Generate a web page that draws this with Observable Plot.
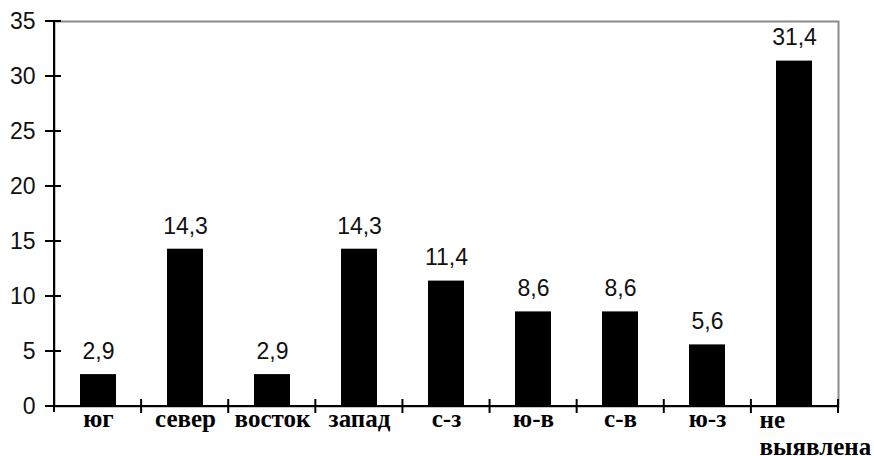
<!DOCTYPE html>
<html><head><meta charset="utf-8">
<script src="https://cdn.jsdelivr.net/npm/d3@7"></script>
<script src="https://cdn.jsdelivr.net/npm/@observablehq/plot@0.6"></script>
<style>html,body{margin:0;padding:0;background:#fff}</style>
</head><body><div id="chart"></div>
<script>
const categories = ["юг","север","восток","запад","с-з","ю-в","с-в","ю-з","не\nвыявлена"];
const values = [2.9,14.3,2.9,14.3,11.4,8.6,8.6,5.6,31.4];
const valueLabels = ["2,9","14,3","2,9","14,3","11,4","8,6","8,6","5,6","31,4"];
const yTicks = [0,5,10,15,20,25,30,35];

const data = categories.map((c,i)=>({cat:c, value:values[i], label:valueLabels[i]}));
const lastCat = categories[categories.length-1];

function crossTicks(index, scales, vals, dims) {
  const y = scales.y;
  const left = dims.marginLeft, right = dims.width - dims.marginRight;
  const step = (right - left) / categories.length;
  const y0 = y(0);
  const g = d3.create("svg:g").attr("stroke","black").attr("stroke-width",2).attr("fill","none");
  g.append("line").attr("x1",left).attr("x2",left).attr("y1",y(yTicks[yTicks.length-1])).attr("y2",y0+6);
  g.append("line").attr("x1",left-9).attr("x2",right).attr("y1",y0).attr("y2",y0);
  for (const t of yTicks) g.append("line").attr("x1",left-9).attr("x2",left+7).attr("y1",y(t)).attr("y2",y(t));
  categories.forEach((c,i)=>{
    const xb = left + (i+1)*step;
    g.append("line").attr("x1",xb).attr("x2",xb).attr("y1",y0-7).attr("y2",y0+7);
  });
  return g.node();
}

const chart = Plot.plot({
  width: 874, height: 456,
  marginLeft: 54, marginRight: 36, marginTop: 21, marginBottom: 50,
  style: {background:"#fff", overflow:"visible"},
  x: {domain: categories, paddingInner: 0.587, paddingOuter: 0.2935, axis: null},
  y: {domain: [0,35], axis: null},
  marks: [
    Plot.frame({stroke:"#8a8a8a", strokeWidth:2}),
    Plot.barY(data, {x:"cat", y:"value", fill:"black"}),
    crossTicks,
    Plot.axisY({ticks: yTicks, label: null, tickSize: 0, tickPadding: 19, fontSize: 23, fontFamily: "Liberation Sans, Arial, sans-serif", fill:"#111", tickFormat: d=>String(d)}),
    Plot.text(data, {x:"cat", y:"value", text:"label", lineAnchor:"top", dy:-32, fontSize:23, fontFamily:"Liberation Sans, Arial, sans-serif", fill:"#111"}),
    Plot.text(data.filter(d=>d.cat!==lastCat), {x:"cat", y:()=>0, text:"cat", lineAnchor:"top", dy:3, fontSize:25, fontWeight:"bold", fontFamily:"Liberation Serif, Times New Roman, serif", fill:"black"}),
    Plot.text(data.filter(d=>d.cat===lastCat), {x:"cat", y:()=>0, text:"cat", lineAnchor:"top", textAnchor:"start", dx:-35, dy:2, lineHeight:1.08, fontSize:25, fontWeight:"bold", fontFamily:"Liberation Serif, Times New Roman, serif", fill:"black"})
  ]
});
document.getElementById("chart").append(chart);
</script>
</body></html>
